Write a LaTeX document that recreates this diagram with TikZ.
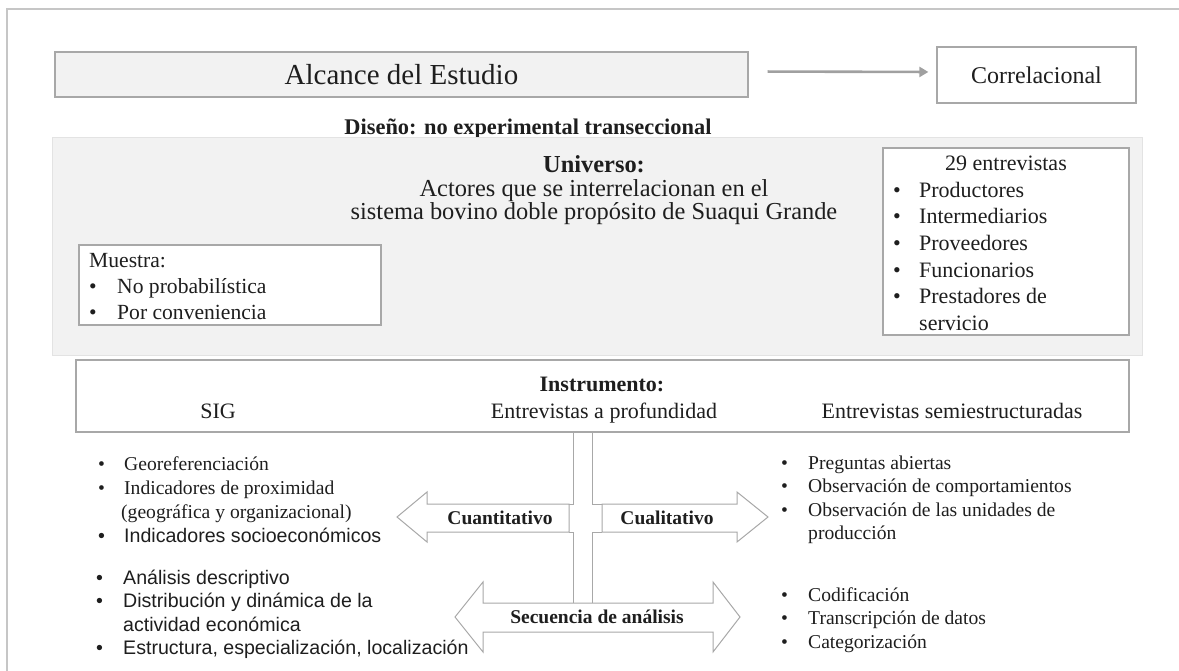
\documentclass[tikz,border=0pt]{standalone}
\usepackage{fontspec}
\setmainfont{Liberation Serif}
\setsansfont{Liberation Sans}
\usepackage{xcolor}
\usepackage{tikz}
\usetikzlibrary{arrows.meta,positioning}

\definecolor{framegray}{HTML}{C6C6C6}
\definecolor{boxline}{HTML}{A8A8A8}
\definecolor{panelfill}{HTML}{F2F2F2}
\definecolor{panelline}{HTML}{E3E3E3}
\definecolor{arrowgray}{HTML}{A0A0A0}
\definecolor{inkgray}{HTML}{1E1E1E}

\newcommand{\listbullet}[1]{\makebox[#1][l]{•}}

\tikzset{
    outline/.style={draw=boxline, line width=1.2pt},
    graybox/.style={outline, fill=panelfill},
    whitebox/.style={outline, fill=white},
    panel/.style={draw=panelline, fill=panelfill, line width=1pt},
    blockarrow/.style={draw=boxline, fill=white, line width=1pt},
    barline/.style={draw=boxline, line width=1pt},
    connarrow/.style={draw=arrowgray, line width=2.6pt, -{Triangle[length=9pt,width=10pt]}},
    plaintext/.style={inner sep=0, text=inkgray},
    arrowlabel/.style={plaintext, font=\bfseries\fontsize{19.5}{22}\selectfont},
    listtext/.style={plaintext, anchor=north west, align=left}
}

\begin{document}
\begin{tikzpicture}[x=1pt, y=-1pt]
    \useasboundingbox (0,0) rectangle (1179,671);

    \draw[
        framegray,
        line width=1.5pt
        ] (7,671) -- (7,9) -- (1179,9);

    \node[
        graybox,
        minimum width=693pt,
        minimum height=45pt,
        plaintext,
        font=\fontsize{29}{33}\selectfont
        ] (alcance) at (401.5,74.5) {Alcance del Estudio};

    \node[
        whitebox,
        minimum width=199pt,
        minimum height=56pt,
        plaintext,
        font=\fontsize{24}{28}\selectfont
        ] (correl) at (1036.5,75) {Correlacional};

    \draw[connarrow, shorten <=19pt, shorten >=8pt]
        ([yshift=3pt]alcance.east) -- ([yshift=3pt]correl.west);

    \node[plaintext, anchor=base, font=\bfseries\fontsize{22.4}{26}\selectfont]
        (diseno) at (528,135) {Diseño: no experimental transeccional};

    \draw[
        panel
        ] (52,138) rectangle (1142,355);

    \node[plaintext, align=center, font=\fontsize{24.4}{23.5}\selectfont]
        (universo) at (594,190.5) {\textbf{Universo:}\\Actores que se interrelacionan en el\hspace*{40pt}\\sistema bovino doble propósito de Suaqui Grande};

    \draw[
        whitebox
        ] (79,245) rectangle (381,325);
    \node[listtext, font=\fontsize{21.6}{26}\selectfont]
        (muestra) at (89,249) {\strut Muestra:\\ \listbullet{28pt}No probabilística\\ \listbullet{28pt}Por conveniencia};

    \draw[
        whitebox
        ] (883,148) rectangle (1129,335);
    \node[plaintext, font=\fontsize{22}{26}\selectfont]
        (entrevistas) at (1006,163) {29 entrevistas};
    \node[listtext, font=\fontsize{22}{26.6}\selectfont]
        (actoreslist) at (893,178.5) {\strut\listbullet{26pt}Productores\\ \listbullet{26pt}Intermediarios\\ \listbullet{26pt}Proveedores\\ \listbullet{26pt}Funcionarios\\ \listbullet{26pt}Prestadores de\\ \hspace*{26pt}servicio};

    \draw[
        whitebox
        ] (76,360) rectangle (1129,432);
    \node[plaintext, anchor=base, font=\bfseries\fontsize{22}{26}\selectfont]
        (instrumento) at (602,391) {Instrumento:};
    \node[plaintext, anchor=base, font=\fontsize{22}{26}\selectfont]
        (sig) at (218,418) {SIG};
    \node[plaintext, anchor=base, font=\fontsize{22}{26}\selectfont]
        (profundidad) at (604,418) {Entrevistas a profundidad};
    \node[plaintext, anchor=base, font=\fontsize{22}{26}\selectfont]
        (semi) at (952,418) {Entrevistas semiestructuradas};

    \draw[barline] (569,504) -- (573,504) -- (573,432) -- (592,432) -- (592,504) -- (602,504);
    \draw[barline] (569,532) -- (573,532) -- (573,603);
    \draw[barline] (602,532) -- (592,532) -- (592,603);

    \draw[
        blockarrow
        ] (569,504) -- (427,504) -- (427,492) -- (397,517) -- (427,542) -- (427,532) -- (569,532) -- cycle;
    \node[arrowlabel] (cuanti) at (500,518) {Cuantitativo};

    \draw[
        blockarrow
        ] (602,504) -- (737,504) -- (737,492) -- (768,517) -- (737,542) -- (737,532) -- (602,532) -- cycle;
    \node[arrowlabel] (cuali) at (667,518) {Cualitativo};

    \draw[
        blockarrow
        ] (483,603) -- (713,603) -- (713,582) -- (740,617) -- (713,652) -- (713,632) -- (483,632) -- (483,652) -- (455,617) -- (483,582) -- cycle;
    \node[arrowlabel] (secuencia) at (597,617) {Secuencia de análisis};

    \node[listtext, font=\fontsize{19.6}{24}\selectfont]
        (sigitems) at (98,453) {\strut\listbullet{26pt}Georeferenciación\\ \listbullet{26pt}Indicadores de proximidad\\ \hspace*{23pt}(geográfica y organizacional)\\ \sffamily\listbullet{26pt}Indicadores socioeconómicos};

    \node[listtext, font=\sffamily\fontsize{19.6}{23.5}\selectfont]
        (sigsteps) at (96,567.5) {\strut\listbullet{27pt}Análisis descriptivo\\ \listbullet{27pt}Distribución y dinámica de la\\ \hspace*{27pt}actividad económica\\ \listbullet{27pt}Estructura, especialización, localización};

    \node[listtext, font=\fontsize{19.6}{23.5}\selectfont]
        (semiitems) at (781,452.5) {\strut\listbullet{27pt}Preguntas abiertas\\ \listbullet{27pt}Observación de comportamientos\\ \listbullet{27pt}Observación de las unidades de\\ \hspace*{27pt}producción};

    \node[listtext, font=\fontsize{19.6}{23.5}\selectfont]
        (semisteps) at (781,584.5) {\strut\listbullet{27pt}Codificación\\ \listbullet{27pt}Transcripción de datos\\ \listbullet{27pt}Categorización};
\end{tikzpicture}
\end{document}
